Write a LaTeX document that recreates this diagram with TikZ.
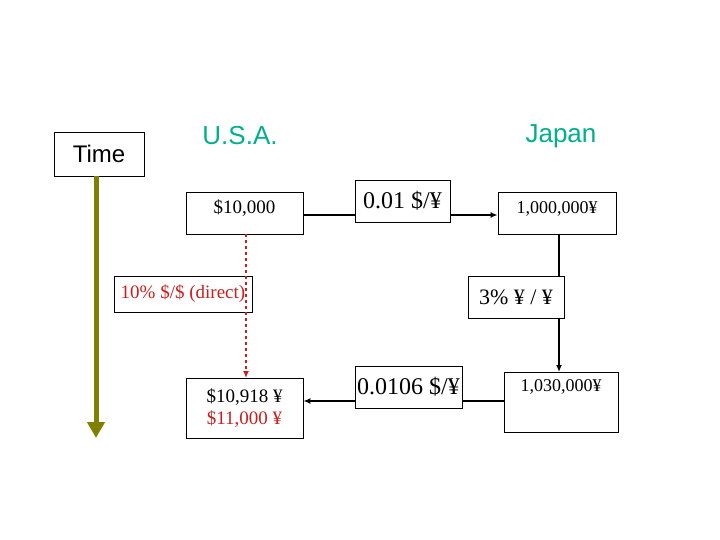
\documentclass[tikz,border=0pt]{standalone}
\usepackage{fontspec}
\setmainfont{Liberation Serif}
\setsansfont{Liberation Sans}
\usetikzlibrary{arrows.meta}
\definecolor{olv}{RGB}{128,128,0}
\definecolor{tl}{RGB}{0,176,140}
\definecolor{rd}{RGB}{200,30,30}
\tikzset{bx/.style={draw,line width=0.8pt,rectangle,inner sep=0pt},
  lbl/.style={font=\fontsize{26}{30}\selectfont\sffamily,text=tl},
  con/.style={draw,-{Latex[length=7pt,width=6pt]},line width=1.6pt}}
\begin{document}
\begin{tikzpicture}[x=1pt,y=-1pt]
\useasboundingbox (0,0) rectangle (720,540);
\node[bx,minimum width=90,minimum height=44,font=\fontsize{24}{28}\selectfont\sffamily] (time) at (99,154) {Time};
\node[lbl] (usa) at (240,136) {U.S.A.};
\node[lbl] (jp) at (561,136) {Japan};
\node[bx,minimum width=117,minimum height=42] (a) at (244.5,213) {};
\node[font=\fontsize{19}{22}\selectfont] (at) at (244.5,208) {\$10,000};
\node[bx,minimum width=118,minimum height=42] (b) at (557,213) {};
\node[font=\fontsize{18}{21}\selectfont] (bt) at (557,209) {1,000,000¥};
\node[bx,minimum width=114,minimum height=60] (d) at (561,402) {};
\node[font=\fontsize{18}{21}\selectfont] (dt) at (561,387) {1,030,000¥};
\node[bx,minimum width=117,minimum height=60,align=center,font=\fontsize{19}{22}\selectfont] (c) at (244.5,408) {\$10,918 ¥\\\textcolor{rd}{\$11,000 ¥}};
\draw[con] (a.east|-0,215) -- (b.west|-0,215);
\draw[con] (559,234) -- (559,372);
\draw[con] (d.west|-0,401) -- (c.east|-0,401);
\node[bx,minimum width=95,minimum height=42,fill=white,font=\fontsize{24}{28}\selectfont] (r1) at (402.5,201) {0.01 \$/¥};
\node[bx,minimum width=107,minimum height=42,fill=white,font=\fontsize{24}{28}\selectfont] (r2) at (408.5,387) {0.0106 \$/¥};
\node[bx,minimum width=138,minimum height=36,text=rd,font=\fontsize{19}{22}\selectfont] (r3) at (183,294) {10\% \$/\$ (direct)};
\node[bx,minimum width=96,minimum height=42,fill=white,font=\fontsize{22}{26}\selectfont] (r4) at (516,297) {3\% ¥ / ¥};
\draw[con,rd,dashed,line width=1.3pt] (246,234) -- (246,378);
\coordinate (tend) at (96,438);
\draw[olv,line width=5pt,-{Triangle[length=16pt,width=17pt]}] (time.south-|96,0) -- (tend);
\end{tikzpicture}
\end{document}
